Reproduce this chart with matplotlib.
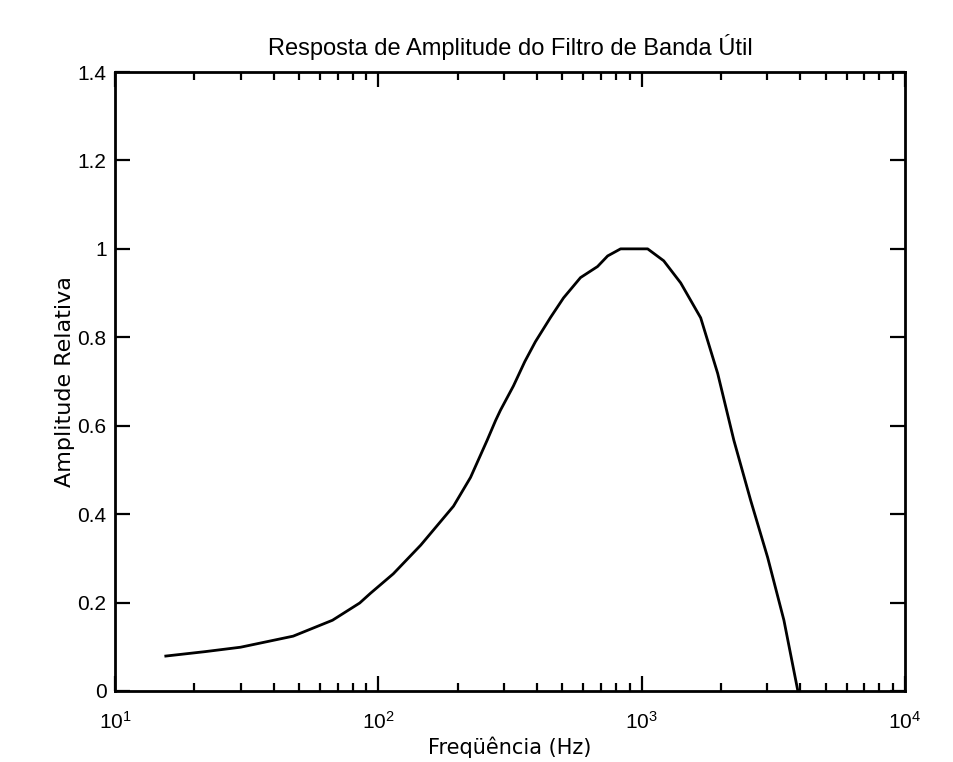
import matplotlib.pyplot as plt
from matplotlib.ticker import LogLocator, NullFormatter

plt.rcParams["font.family"] = ["Liberation Sans", "DejaVu Sans"]
plt.rcParams["mathtext.fontset"] = "custom"
plt.rcParams["mathtext.rm"] = "Liberation Sans"

# Amplitude response of the band filter, sampled along a log frequency axis
freq_hz = [15.6, 22, 30, 47.5, 67, 85, 93.4, 114, 145, 193, 224, 259, 279,
           291, 326, 360, 395, 451, 505, 586, 680, 743, 832, 950, 1054,
           1213, 1407, 1676, 1945, 2240, 2595, 3010, 3470, 3920]
amplitude = [0.079, 0.089, 0.099, 0.124, 0.160, 0.199, 0.221, 0.265, 0.33,
             0.418, 0.483, 0.567, 0.612, 0.635, 0.69, 0.745, 0.79, 0.845,
             0.889, 0.935, 0.960, 0.984, 1.0, 1.0, 1.0, 0.973, 0.923, 0.844,
             0.718, 0.567, 0.431, 0.302, 0.16, 0.0]

y_ticks = [0, 0.2, 0.4, 0.6, 0.8, 1, 1.2, 1.4]
y_tick_labels = ["0", "0.2", "0.4", "0.6", "0.8", "1", "1.2", "1.4"]

fig = plt.figure(figsize=(9.54, 7.62), dpi=100)
ax = fig.add_axes([0.1205, 0.0932, 0.8281, 0.8123])

ax.semilogx(freq_hz, amplitude, color="black", linewidth=2.0)

ax.set_xlim(10, 1e4)
ax.set_ylim(0, 1.4)
ax.set_yticks(y_ticks)
ax.set_yticklabels(y_tick_labels)
ax.xaxis.set_major_locator(LogLocator(base=10, numticks=10))
ax.xaxis.set_minor_locator(LogLocator(base=10, subs=range(2, 10), numticks=10))
ax.xaxis.set_minor_formatter(NullFormatter())

ax.tick_params(which="both", direction="in", top=True, right=True,
               width=1.6, labelsize=15, colors="black")
ax.tick_params(which="major", length=11)
ax.tick_params(which="minor", length=6)
ax.tick_params(axis="x", which="major", pad=14)
ax.tick_params(axis="y", pad=6)
for spine in ax.spines.values():
    spine.set_linewidth(2.0)

ax.set_title("Resposta de Amplitude do Filtro de Banda Útil", fontsize=17, pad=12)
ax.set_xlabel("Freqüência (Hz)", fontsize=15, family="DejaVu Sans", labelpad=3)
ax.set_ylabel("Amplitude Relativa", fontsize=16, family="DejaVu Sans", labelpad=2)

fig.savefig("out.png", dpi=100)
